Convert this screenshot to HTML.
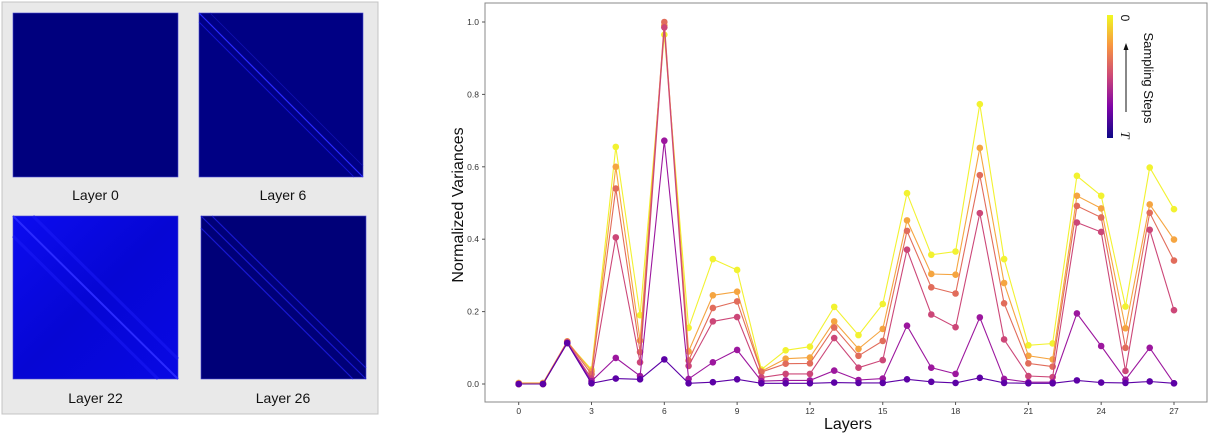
<!DOCTYPE html>
<html><head><meta charset="utf-8"><style>
body{margin:0;width:1210px;height:434px;background:#fff;overflow:hidden;font-family:"Liberation Sans",sans-serif}
</style></head><body>
<svg id="s" width="1210" height="434" xmlns="http://www.w3.org/2000/svg" style="position:absolute;left:0;top:0">
<defs>
<linearGradient id="cb" x1="0" y1="1" x2="0" y2="0">
<stop offset="0" stop-color="#0d0887"/><stop offset="0.25" stop-color="#7e03a8"/><stop offset="0.5" stop-color="#cc4778"/><stop offset="0.75" stop-color="#f89540"/><stop offset="1" stop-color="#f0f921"/>
</linearGradient>
<linearGradient id="l22" x1="0" y1="0" x2="1" y2="1">
<stop offset="0" stop-color="#0c0cf0"/><stop offset="0.5" stop-color="#0606d4"/><stop offset="1" stop-color="#0808e4"/>
</linearGradient>
</defs>
<rect x="2" y="2" width="376" height="412" fill="#e9e9e9" stroke="#c4c4c4"/>
<rect x="13" y="13" width="165" height="164" fill="#00007e" stroke="#4a4ad0" stroke-width="0.6"/>
<rect x="199" y="13" width="164" height="164" fill="#000084" stroke="#4a4ad0" stroke-width="0.6"/>
<line x1="199" y1="13" x2="363" y2="177" stroke="#2a2aff" stroke-width="1.2"/>
<line x1="199" y1="22" x2="354" y2="177" stroke="#1414d0" stroke-width="1"/>
<line x1="210" y1="13" x2="363" y2="166" stroke="#1010b0" stroke-width="0.8"/>
<rect x="13" y="216" width="165" height="163" fill="url(#l22)" stroke="#4a4ad0" stroke-width="0.6"/>
<line x1="13" y1="216" x2="178" y2="379" stroke="#2a2aff" stroke-width="2"/>
<line x1="13" y1="236" x2="158" y2="379" stroke="#1c1cf8" stroke-width="3" opacity="0.5"/>
<line x1="33" y1="216" x2="178" y2="359" stroke="#1c1cf8" stroke-width="3" opacity="0.5"/>
<rect x="201" y="216" width="165" height="163" fill="#000078" stroke="#4a4ad0" stroke-width="0.6"/>
<line x1="201" y1="216" x2="366" y2="379" stroke="#1818d0" stroke-width="1.2"/>
<line x1="212" y1="216" x2="366" y2="368" stroke="#1818d0" stroke-width="1.2"/>
<line x1="201" y1="228" x2="353" y2="379" stroke="#1818d0" stroke-width="1.2"/>
<text x="95.5" y="200" font-size="14" text-anchor="middle" fill="#111">Layer 0</text>
<text x="283" y="200" font-size="14" text-anchor="middle" fill="#111">Layer 6</text>
<text x="95.5" y="403" font-size="14" text-anchor="middle" fill="#111">Layer 22</text>
<text x="283" y="403" font-size="14" text-anchor="middle" fill="#111">Layer 26</text>
<rect x="485" y="3" width="722" height="399" fill="#fff" stroke="#888" stroke-width="1"/>
<g id="ch"></g>
<text transform="translate(463,205) rotate(-90)" font-size="16" text-anchor="middle" fill="#111">Normalized Variances</text>
<text x="848" y="429" font-size="16" text-anchor="middle" fill="#111">Layers</text>
<rect x="1107" y="15" width="6" height="123" fill="url(#cb)"/>
<text transform="translate(1121,18) rotate(90)" font-size="12" text-anchor="middle" fill="#111">0</text>
<text transform="translate(1121,135) rotate(90)" font-size="13" font-style="italic" font-family="Liberation Serif,serif" text-anchor="middle" fill="#111">T</text>
<line x1="1126" y1="112" x2="1126" y2="49" stroke="#111" stroke-width="1"/>
<path d="M1123.5,50 L1126,43 L1128.5,50 Z" fill="#111"/>
<text transform="translate(1144,78) rotate(90)" font-size="13" text-anchor="middle" fill="#111">Sampling Steps</text>
</svg>
<script>
var D={
"#5c01a6":[0,0,.113,.002,.015,.013,.068,.002,.005,.013,.002,.002,.002,.004,.003,.003,.013,.006,.003,.017,.003,.002,.002,.01,.004,.003,.007,.002],
"#9c179e":[0,0,.113,.008,.072,.022,.672,.014,.06,.094,.008,.01,.01,.037,.011,.015,.161,.045,.028,.184,.014,.005,.005,.195,.105,.012,.1,.002],
"#cc4778":[0,0,.115,.015,.405,.06,.985,.05,.173,.185,.018,.028,.028,.127,.045,.066,.371,.192,.157,.472,.123,.022,.019,.446,.42,.036,.426,.204],
"#e16c5b":[0,0,.117,.027,.54,.088,1.0,.065,.21,.228,.033,.056,.057,.156,.078,.119,.423,.267,.25,.577,.223,.057,.048,.492,.46,.1,.473,.341],
"#f5a541":[.003,.003,.118,.035,.6,.12,.99,.09,.245,.255,.035,.07,.073,.173,.097,.152,.452,.304,.302,.652,.279,.078,.068,.52,.485,.154,.496,.399],
"#f2f230":[0,0,.115,.04,.655,.19,.965,.155,.345,.315,.04,.093,.103,.213,.135,.221,.527,.357,.366,.773,.345,.107,.112,.575,.52,.214,.598,.483]};
var g=document.getElementById("ch"),h="";
function X(i){return 518.7+i*24.27}function Y(v){return 384-v*362}
for(var i=0;i<=27;i+=3){h+='<line x1="'+X(i)+'" y1="402" x2="'+X(i)+'" y2="405" stroke="#555"/><text x="'+X(i)+'" y="414" font-size="8.5" text-anchor="middle" fill="#333">'+i+'</text>';}
for(var k=0;k<=5;k++){var v=k*0.2;h+='<line x1="482" y1="'+Y(v)+'" x2="485" y2="'+Y(v)+'" stroke="#555"/><text x="479" y="'+(Y(v)+3)+'" font-size="8.5" text-anchor="end" fill="#333">'+v.toFixed(1)+'</text>';}
var keys=Object.keys(D).reverse();
keys.forEach(function(c){var p=D[c].map(function(v,i){return X(i).toFixed(1)+","+Y(v).toFixed(1)}).join(" ");
h+='<polyline points="'+p+'" fill="none" stroke="'+c+'" stroke-width="1.1"/>';
D[c].forEach(function(v,i){h+='<circle cx="'+X(i)+'" cy="'+Y(v)+'" r="3.3" fill="'+c+'"/>';});});
g.innerHTML=h;
</script>
</body></html>
